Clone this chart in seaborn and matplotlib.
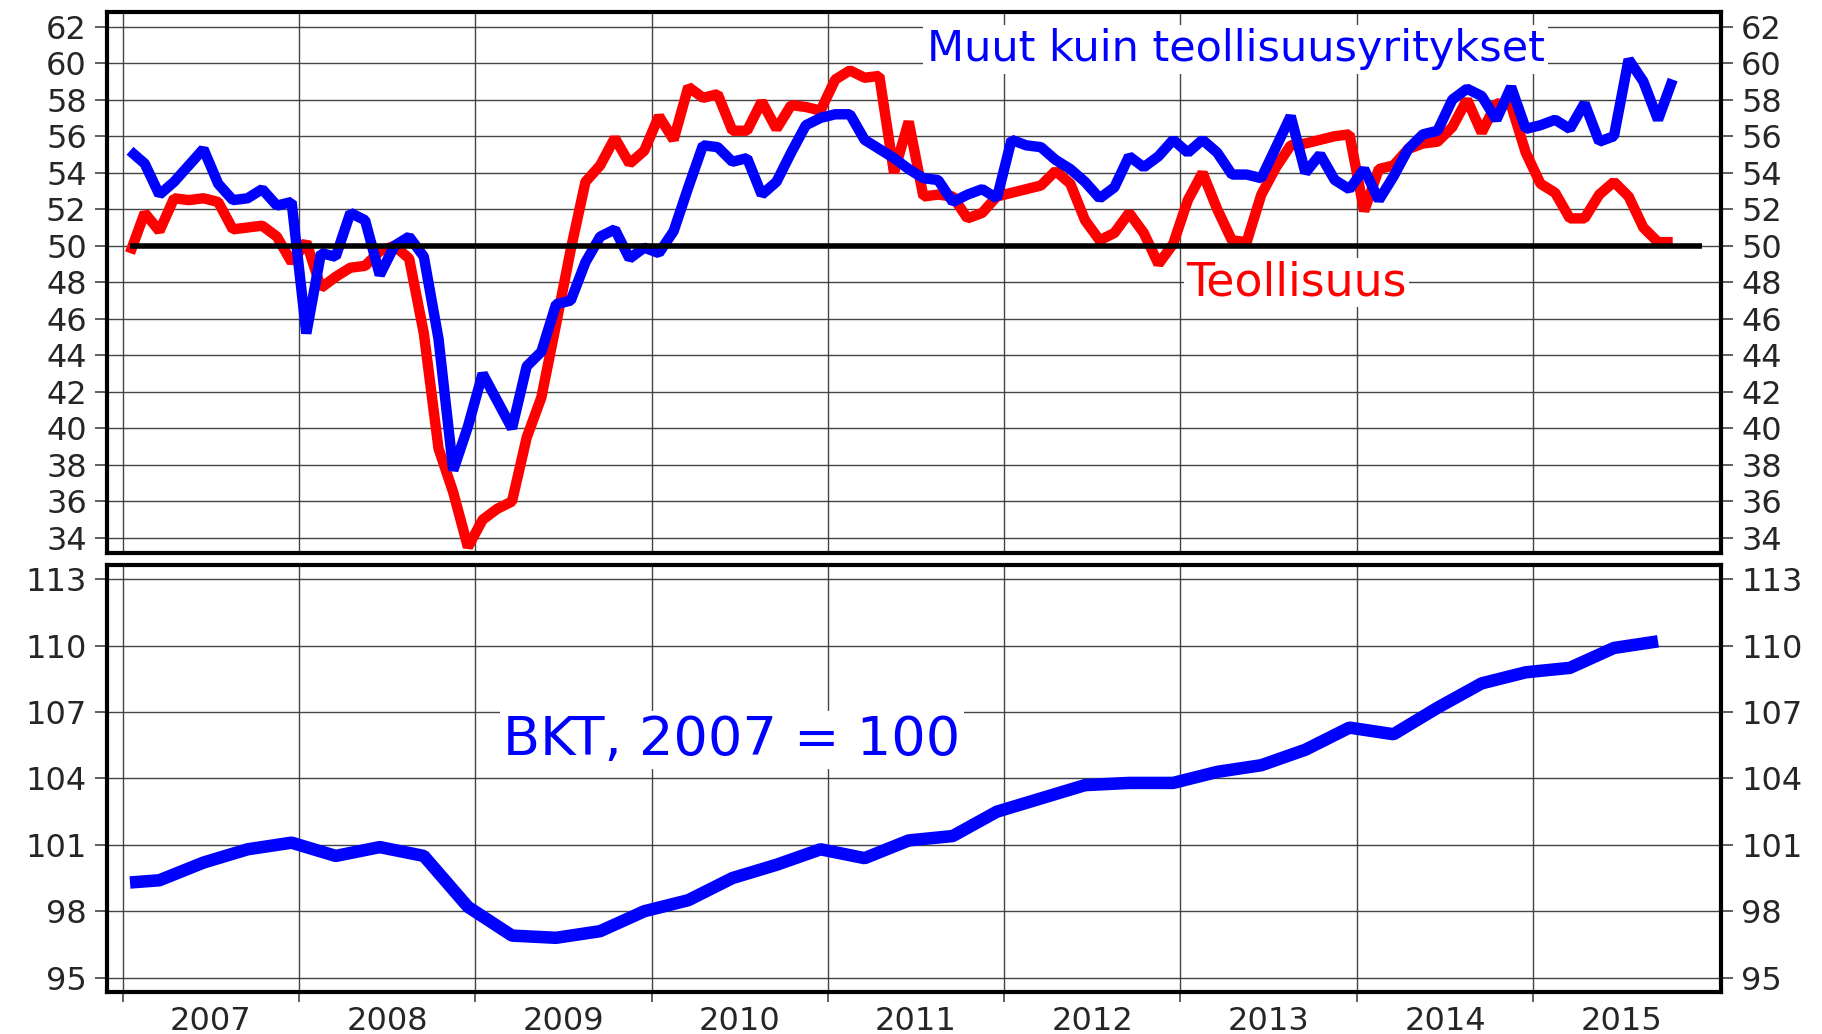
import numpy as np
import pandas as pd
import matplotlib
matplotlib.use("Agg")
import matplotlib.pyplot as plt
import seaborn as sns

# =========================
# DATA
# =========================

# monthly indices, Jan 2007 - Oct 2015
teollisuus = [
    49.6, 51.8, 50.8, 52.6, 52.5, 52.6, 52.4, 50.9, 51.0, 51.1, 50.5, 49.1,
    50.2, 47.7, 48.3, 48.8, 48.9, 49.7, 50.0, 49.3, 45.2, 38.9, 36.5, 33.5,
    35.0, 35.6, 36.0, 39.5, 41.7, 45.7, 49.8, 53.5, 54.4, 55.9, 54.5, 55.2,
    57.1, 55.8, 58.7, 58.1, 58.3, 56.3, 56.3, 57.9, 56.4, 57.7, 57.6, 57.4,
    59.1, 59.6, 59.2, 59.3, 54.0, 56.8, 52.7, 52.8, 52.7, 51.5, 51.8, 52.7,
    52.9, 53.1, 53.3, 54.1, 53.4, 51.4, 50.3, 50.7, 51.8, 50.7, 49.0, 50.1,
    52.5, 54.0, 52.0, 50.3, 50.2, 52.8, 54.3, 55.5, 55.6, 55.8, 56.0, 56.1,
    51.9, 54.2, 54.4, 55.3, 55.6, 55.7, 56.5, 58.0, 56.2, 57.8, 57.7, 55.1,
    53.4, 52.9, 51.5, 51.5, 52.8, 53.5, 52.7, 51.0, 50.2, 50.2,
]

muut = [
    55.2, 54.5, 52.8, 53.5, 54.4, 55.3, 53.4, 52.5, 52.6, 53.1, 52.2, 52.4,
    45.2, 49.6, 49.4, 51.8, 51.4, 48.4, 50.0, 50.5, 49.4, 44.9, 37.7, 40.1,
    43.0, 41.5, 40.0, 43.4, 44.2, 46.8, 47.0, 49.1, 50.5, 50.9, 49.3, 49.9,
    49.6, 50.8, 53.2, 55.5, 55.4, 54.6, 54.8, 52.8, 53.5, 55.1, 56.6, 57.0,
    57.2, 57.2, 55.8, 55.3, 54.8, 54.2, 53.7, 53.6, 52.4, 52.8, 53.1, 52.6,
    55.8, 55.5, 55.4, 54.7, 54.2, 53.5, 52.6, 53.2, 54.9, 54.3, 54.9, 55.8,
    55.1, 55.8, 55.1, 53.9, 53.9, 53.7, 55.4, 57.1, 54.0, 55.0, 53.6, 53.1,
    54.2, 52.5, 53.8, 55.3, 56.1, 56.3, 58.0, 58.6, 58.2, 56.9, 58.7, 56.4,
    56.6, 56.9, 56.4, 57.8, 55.7, 56.0, 60.2, 59.0, 56.9, 59.1,
]

# GDP, 2007 = 100 (Jan 2007 start, then last month of each quarter)
bkt_month = [0] + list(range(2, 105, 3))
bkt = [
    99.3, 99.4, 100.2, 100.8, 101.1, 100.5, 100.9, 100.5, 98.2, 96.9,
    96.8, 97.1, 98.0, 98.5, 99.5, 100.1, 100.8, 100.4, 101.2, 101.4,
    102.5, 103.1, 103.7, 103.8, 103.8, 104.3, 104.6, 105.3, 106.3, 106.0,
    107.2, 108.3, 108.8, 109.0, 109.9, 110.2,
]

years = list(range(2007, 2016))
top_ticks = list(range(34, 63, 2))
bottom_ticks = list(range(95, 114, 3))

# =========================
# PREPARE
# =========================

months = np.arange(len(muut))
top_df = pd.DataFrame({
    "x": 2007 + (months + 0.5) / 12,
    "Teollisuus": teollisuus,
    "Muut": muut,
})
bkt_df = pd.DataFrame({
    "x": 2007 + (np.array(bkt_month) + 0.5) / 12,
    "bkt": bkt,
})

sns.set_style("white")
plt.rcParams["font.family"] = ["DejaVu Sans"]

fig = plt.figure(figsize=(18.22, 10.34), dpi=100)
ax1 = fig.add_axes([0.0587, 0.4652, 0.8859, 0.5232])
ax2 = fig.add_axes([0.0587, 0.0406, 0.8859, 0.4130])

line_kw = dict(solid_joinstyle="bevel", solid_capstyle="butt")

# =========================
# TOP PANEL
# =========================

sns.lineplot(data=top_df, x="x", y="Teollisuus", ax=ax1, color="#ff0000",
             linewidth=7.5, zorder=2, **line_kw)
sns.lineplot(data=top_df, x="x", y="Muut", ax=ax1, color="#0000ff",
             linewidth=7.5, zorder=2.1, **line_kw)
ax1.hlines(50, 2007 + 0.5 / 12, 2015 + 11.5 / 12, color="black",
           linewidth=4, zorder=3)

ax1.set_xlim(2006.911, 2016.066)
ax1.set_ylim(33.18, 62.8)
ax1.set_yticks(top_ticks)
ax1.set_xticks(years)
ax1.tick_params(axis="x", bottom=False, labelbottom=False)

ax1.text(2013.314, 60.1, "Muut kuin teollisuusyritykset", color="#0000ff",
         fontsize=31, ha="center", va="baseline", zorder=5,
         bbox=dict(facecolor="white", edgecolor="none",
                   boxstyle="square,pad=0.08"))
ax1.text(2013.658, 47.3, "Teollisuus", color="#ff0000",
         fontsize=33, ha="center", va="baseline", zorder=5,
         bbox=dict(facecolor="white", edgecolor="none",
                   boxstyle="square,pad=0.05"))

# =========================
# BOTTOM PANEL
# =========================

sns.lineplot(data=bkt_df, x="x", y="bkt", ax=ax2, color="#0000ff",
             linewidth=9, zorder=2, **line_kw)

ax2.set_xlim(2006.911, 2016.066)
ax2.set_ylim(94.35, 113.65)
ax2.set_yticks(bottom_ticks)
ax2.set_xticks(years)
ax2.set_xticklabels([])
ax2.set_xticks([y + 0.5 for y in years], minor=True)
ax2.set_xticklabels([str(y) for y in years], minor=True)
ax2.tick_params(axis="x", which="major", bottom=True, direction="out",
                length=7, width=1.2, color="#444444")
ax2.tick_params(axis="x", which="minor", bottom=True, length=0,
                labelsize=23, pad=10)

ax2.text(2010.456, 105.06, "BKT, 2007 = 100", color="#0000ff",
         fontsize=39, ha="center", va="baseline", zorder=5,
         bbox=dict(facecolor="white", edgecolor="none",
                   boxstyle="square,pad=0.06"))

# =========================
# SHARED STYLE
# =========================

for ax in (ax1, ax2):
    ax.set_xlabel("")
    ax.set_ylabel("")
    ax.set_axisbelow(True)
    ax.grid(True, which="major", color="#444444", linewidth=1.0)
    ax.tick_params(axis="y", left=True, right=True, labelleft=True,
                   labelright=True, direction="out", length=8.5,
                   width=1.2, pad=6, labelsize=23, color="#444444")
    for side in ax.spines.values():
        side.set_visible(True)
        side.set_color("black")
        side.set_linewidth(3)

fig.savefig("out.png", dpi=100)
